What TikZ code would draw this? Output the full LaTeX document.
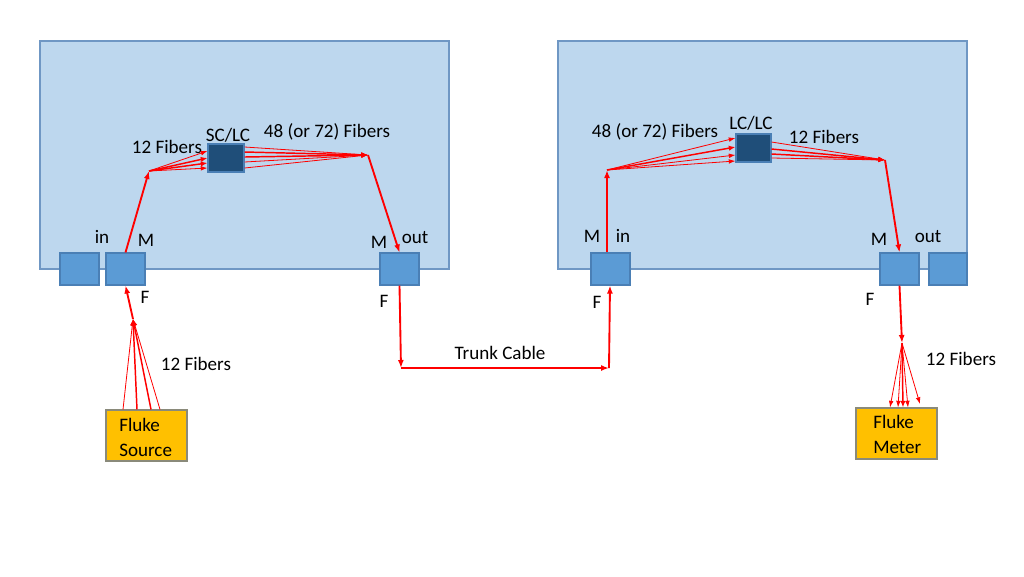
\documentclass[tikz,border=0pt]{standalone}
\usepackage{fontspec}
\setmainfont{Carlito}
\usetikzlibrary{fit,arrows.meta}
\definecolor{panelfill}{HTML}{BDD7EE}
\definecolor{paneldraw}{HTML}{6F97C4}
\definecolor{portfill}{HTML}{5B9BD5}
\definecolor{portdraw}{HTML}{4A7FB5}
\definecolor{darkbox}{HTML}{1F4E79}
\definecolor{darkdraw}{HTML}{4A7FB5}
\definecolor{fluke}{HTML}{FFC000}
\definecolor{flukedraw}{HTML}{8A8A7A}
\definecolor{fiber}{HTML}{FF0000}
\begin{document}
\begin{tikzpicture}[x=0.75pt,y=-0.75pt,
  lbl/.style={font=\fontsize{14.3}{16}\selectfont, inner sep=0pt},
  panel/.style={draw=paneldraw, fill=panelfill, line width=0.8pt, inner sep=0pt},
  port/.style={draw=portdraw, fill=portfill, line width=0.8pt, inner sep=0pt},
  adapter/.style={draw=darkdraw, fill=darkbox, line width=0.8pt, inner sep=0pt},
  flukebox/.style={draw=flukedraw, fill=fluke, line width=0.8pt, inner sep=0pt},
  thick fiber/.style={draw=fiber, line width=1.4pt, -{Latex[length=6pt,width=4.5pt]}},
  thin fiber/.style={draw=fiber, line width=0.6pt, -{Latex[length=5pt,width=3.5pt]}},
  mid fiber/.style={draw=fiber, line width=1.1pt, -{Latex[length=5pt,width=4pt]}}
]
\useasboundingbox (0,0) rectangle (1024,576);
% panels
\node[panel, fit={(40,41) (449,269)}] (P1) {};
\node[panel, fit={(558,41) (967,269)}] (P2) {};
% ports
\node[port, fit={(60,253) (99,285)}] (inL) {};
\node[port, fit={(106,253) (145,285)}] (mL) {};
\node[port, fit={(380,253) (419,285)}] (outL) {};
\node[port, fit={(591,253) (630,285)}] (inR) {};
\node[port, fit={(880,253) (919,285)}] (mR) {};
\node[port, fit={(929,253) (967,285)}] (outR) {};
% adapters
\node[adapter, fit={(208,144) (244,172)}] (sclc) {};
\node[adapter, fit={(736,134) (771,162)}] (lclc) {};
% fluke boxes
\node[flukebox, fit={(106,410) (187,461)}] (src) {};
\node[flukebox, fit={(856,408) (937,459)}] (met) {};
\node[lbl, align=left, anchor=west] at (119,437.5) {Fluke\\[3pt]Source};
\node[lbl, align=left, anchor=west] at (873,434.5) {Fluke\\[3pt]Meter};
% labels
\node[lbl] at (167,147) {12 Fibers};
\node[lbl] at (228,135) {SC/LC};
\node[lbl] at (327,132) {48 (or 72) Fibers};
\node[lbl] at (102,237) {in};
\node[lbl] at (146,240) {M};
\node[lbl] at (379,242) {M};
\node[lbl] at (415,238) {out};
\node[lbl] at (145,297) {F};
\node[lbl] at (384,301) {F};
\node[lbl] at (196,364) {12 Fibers};
\node[lbl] at (500,353) {Trunk Cable};
\node[lbl] at (655,132) {48 (or 72) Fibers};
\node[lbl] at (751,123) {LC/LC};
\node[lbl] at (824,137) {12 Fibers};
\node[lbl] at (592,236) {M};
\node[lbl] at (623,236) {in};
\node[lbl] at (879,239) {M};
\node[lbl] at (928,237) {out};
\node[lbl] at (597,302) {F};
\node[lbl] at (870,299) {F};
\node[lbl] at (961,359) {12 Fibers};
% junction coordinates
\coordinate (j1) at (149,171);
\coordinate (j2) at (368,155);
\coordinate (j3) at (607,170);
\coordinate (j4) at (885,160);
\coordinate (j5) at (133,319);
\coordinate (j6) at (902,343);
\coordinate (t1) at (401,368);
\coordinate (t2) at (609,368);
% left panel fibers
\draw[thick fiber] (mL.north) -- (j1);
\draw[thin fiber] (j1) -- (sclc.west |- 0,151);
\draw[mid fiber] (j1) -- (sclc.west |- 0,158);
\draw[mid fiber] (j1) -- (sclc.west |- 0,163);
\draw[thin fiber] (j1) -- (sclc.west |- 0,168);
\draw[thin fiber] (sclc.east |- 0,147) -- (j2);
\draw[mid fiber] (sclc.east |- 0,152) -- (j2);
\draw[mid fiber] (sclc.east |- 0,157) -- (j2);
\draw[thin fiber] (sclc.east |- 0,162) -- (j2);
\draw[thin fiber] (sclc.east |- 0,168) -- (j2);
\draw[thick fiber] (j2) -- (outL.north);
% source fibers
\draw[thin fiber] (src.north -| 123,0) -- (j5);
\draw[mid fiber] (src.north -| 137,0) -- (j5);
\draw[mid fiber] (src.north -| 151,0) -- (j5);
\draw[thin fiber] (src.north -| 160,0) -- (j5);
\draw[thick fiber] (j5) -- (mL.south);
% trunk
\draw[thick fiber] (outL.south) -- (t1);
\draw[thick fiber] (t1) -- (t2);
\draw[thick fiber] (t2) -- (inR.south -| 610,0);
% right panel fibers
\draw[thick fiber] (inR.north -| 607,0) -- (j3);
\draw[thin fiber] (j3) -- (lclc.west |- 0,138);
\draw[mid fiber] (j3) -- (lclc.west |- 0,147);
\draw[thin fiber] (j3) -- (lclc.west |- 0,155);
\draw[thin fiber] (j3) -- (lclc.west |- 0,161);
\draw[thin fiber] (lclc.east |- 0,142) -- (j4);
\draw[mid fiber] (lclc.east |- 0,149) -- (j4);
\draw[mid fiber] (lclc.east |- 0,154) -- (j4);
\draw[thin fiber] (lclc.east |- 0,158) -- (j4);
\draw[thick fiber] (j4) -- (mR.north);
% meter fibers
\draw[thick fiber] (mR.south) -- (j6);
\draw[thin fiber] (j6) -- (met.north -| 890,0);
\draw[thin fiber] (j6) -- (met.north -| 898,0);
\draw[mid fiber] (j6) -- (met.north -| 903,0);
\draw[thin fiber] (j6) -- (met.north -| 908,0);
\draw[thin fiber] (j6) -- (920,404);
\end{tikzpicture}
\end{document}
